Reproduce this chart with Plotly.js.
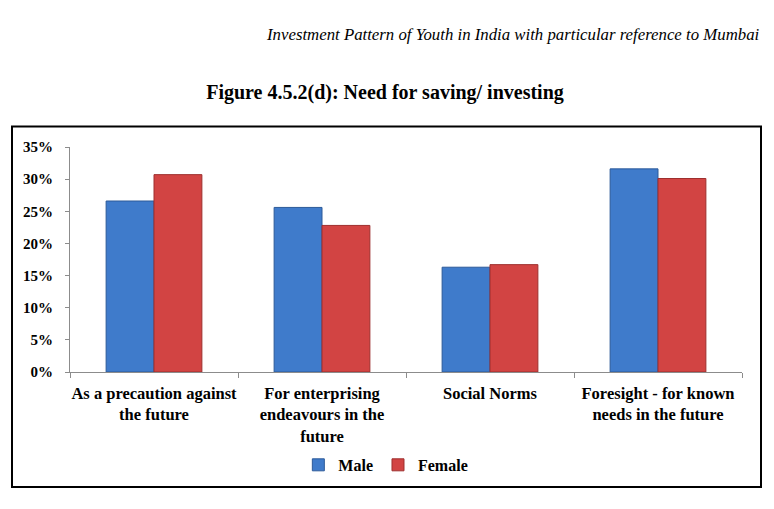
<!DOCTYPE html>
<html>
<head>
<meta charset="utf-8">
<script src="https://cdn.plot.ly/plotly-3.0.1.min.js"></script>
<style>
  html, body { margin: 0; padding: 0; background: #fff; }
  #chart { width: 774px; height: 509px; }
</style>
</head>
<body>
<div id="chart"></div>
<script>
// Need for saving / investing, by gender (share of respondents)
const categories = [
    "As a precaution against<br>the future",
    "For enterprising<br>endeavours in the<br>future",
    "Social Norms",
    "Foresight - for known<br>needs in the future",
];
const maleValues   = [0.266, 0.256, 0.163, 0.316];
const femaleValues = [0.307, 0.228, 0.167, 0.301];
const yTickVals = [0, 0.05, 0.10, 0.15, 0.20, 0.25, 0.30, 0.35];

const SERIF = "Liberation Serif, Times New Roman, serif";

const traces = [
    {
        type: "bar",
        name: "Male",
        x: categories,
        y: maleValues,
        marker: { color: "#3f7bcb", line: { color: "#2c5a99", width: 1 } },
    },
    {
        type: "bar",
        name: "Female",
        x: categories,
        y: femaleValues,
        marker: { color: "#d24443", line: { color: "#9e2f2e", width: 1 } },
    },
];

const layout = {
    width: 774,
    height: 509,
    paper_bgcolor: "#fff",
    plot_bgcolor: "#fff",
    margin: { l: 70, r: 32, t: 147, b: 137 },
    font: { family: SERIF, color: "#000", size: 15 },
    barmode: "group",
    bargap: 0.43,
    bargroupgap: 0,
    title: {
        text: "Figure 4.5.2(d): Need for saving/ investing",
        font: { family: SERIF, size: 20, color: "#000", weight: "bold" },
        x: 385 / 774, xanchor: "center",
        y: 1 - 92 / 509, yanchor: "middle",
    },
    xaxis: {
        type: "category",
        showline: true,
        linecolor: "#8c8c8c",
        linewidth: 1,
        ticks: "outside",
        tickson: "boundaries",
        ticklen: 5,
        tickcolor: "#8c8c8c",
        showgrid: false,
        tickfont: { family: SERIF, size: 16.5, color: "#000", weight: "bold" },
        ticklabelstandoff: 6,
        tickangle: 0,
    },
    yaxis: {
        range: [0, 0.35],
        tickvals: yTickVals,
        tickformat: ".0%",
        showline: true,
        linecolor: "#8c8c8c",
        linewidth: 1,
        ticks: "outside",
        ticklen: 4,
        tickcolor: "#8c8c8c",
        showgrid: false,
        zeroline: false,
        tickfont: { family: SERIF, size: 15, color: "#000", weight: "bold" },
        ticklabelstandoff: 9,
    },
    showlegend: true,
    legend: {
        orientation: "h",
        x: 0.47, xanchor: "center",
        y: -0.413, yanchor: "middle",
        font: { family: SERIF, size: 16, color: "#000", weight: "bold" },
        itemwidth: 30,
        traceorder: "normal",
    },
    annotations: [
        {
            text: "<i>Investment Pattern of Youth in India with particular reference to Mumbai</i>",
            xref: "paper", yref: "paper",
            x: (762 - 70) / 672, xanchor: "right",
            y: (372 - 35) / 225, yanchor: "middle",
            showarrow: false,
            font: { family: SERIF, size: 16.8, color: "#000" },
        },
    ],
    shapes: [
        {
            type: "rect",
            xref: "paper", yref: "paper",
            x0: (12 - 70) / 672, x1: (761 - 70) / 672,
            y0: (372 - 487) / 225, y1: (372 - 126.5) / 225,
            line: { color: "#000", width: 2 },
            fillcolor: "rgba(0,0,0,0)",
            layer: "below",
        },
    ],
};

Plotly.newPlot("chart", traces, layout, { staticPlot: true, displayModeBar: false });
</script>
</body>
</html>
